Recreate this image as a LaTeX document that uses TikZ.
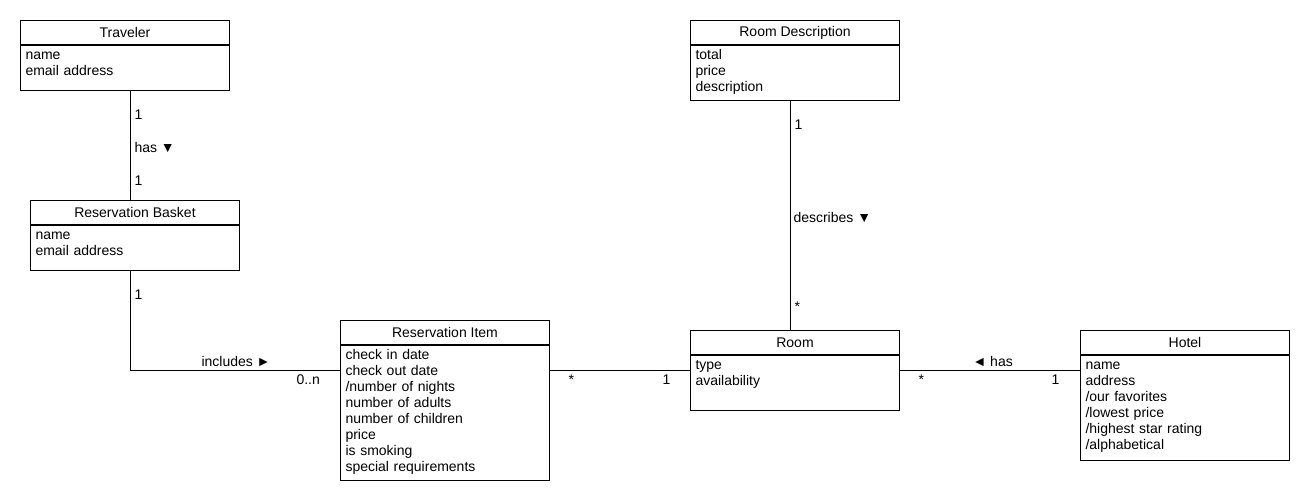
\documentclass[tikz,border=0pt]{standalone}
\usepackage{fontspec}
\setmainfont{Liberation Sans}
\begin{document}
\begin{tikzpicture}[
		x=0.75pt, y=-0.75pt,
		line width=0.75pt,
		every node/.style={font=\fontsize{10.5}{12}\selectfont},
		head/.style={draw, anchor=north west, minimum width=156.75pt, minimum height=18pt, inner sep=0pt},
		body/.style={draw, anchor=north, minimum width=156.75pt, inner sep=0pt},
		attrs/.style={anchor=base west, text width=150pt, align=left, inner sep=0pt},
		lab/.style={anchor=base west, inner sep=0pt}
	]
	\useasboundingbox (0,0) rectangle (1310,500);
	
	% classes
	\node[head] (trav) at (20,20) {Traveler};
	\node[body, minimum height=33.75pt] (travb) at (trav.south) {};
	\node[attrs] (travt) at ([shift={(5,14)}]travb.north west) {name\\email address};
	
	\node[head] (desc) at (690,20) {Room Description};
	\node[body, minimum height=41.25pt] (descb) at (desc.south) {};
	\node[attrs] (desct) at ([shift={(5,14)}]descb.north west) {total\\price\\description};
	
	\node[head] (bask) at (30,200) {Reservation Basket};
	\node[body, minimum height=33.75pt] (baskb) at (bask.south) {};
	\node[attrs] (baskt) at ([shift={(5,14)}]baskb.north west) {name\\email address};
	
	\node[head] (item) at (340,320) {Reservation Item};
	\node[body, minimum height=101.25pt] (itemb) at (item.south) {};
	\node[attrs] (itemt) at ([shift={(5,14)}]itemb.north west) {check in date\\check out date\\/number of nights\\number of adults\\number of children\\price\\is smoking\\special requirements};
	
	\node[head] (room) at (690,330) {Room};
	\node[body, minimum height=41.25pt] (roomb) at (room.south) {};
	\node[attrs] (roomt) at ([shift={(5,14)}]roomb.north west) {type\\availability};
	
	\node[head] (hotel) at (1080,330) {Hotel};
	\node[body, minimum height=78.75pt] (hotelb) at (hotel.south) {};
	\node[attrs] (hotelt) at ([shift={(5,14)}]hotelb.north west) {name\\address\\/our favorites\\/lowest price\\/highest star rating\\/alphabetical};
	
	% associations
	\coordinate (hasx) at (130,0);
	\coordinate (descx) at (790,0);
	\coordinate (midline) at (0,370);
	\draw (travb.south -| hasx) -- (bask.north -| hasx);
	\draw (baskb.south -| hasx) |- (itemb.west |- midline);
	\draw (itemb.east |- midline) -- (roomb.west |- midline);
	\draw (descb.south -| descx) -- (room.north -| descx);
	\draw (roomb.east |- midline) -- (hotelb.west |- midline);
	
	\node[lab] (m1) at (134,119) {1};
	\node[lab] (a1) at (134,152) {has ▼};
	\node[lab] (m2) at (134,185) {1};
	\node[lab] (m3) at (134,299) {1};
	\node[lab] (a2) at (201,366) {includes ►};
	\node[lab] (m4) at (296,384) {0..n};
	\node[lab] (m5) at (568,384) {*};
	\node[lab] (m6) at (662,384) {1};
	\node[lab] (m7) at (794,129) {1};
	\node[lab] (a3) at (793,222) {describes ▼};
	\node[lab] (m8) at (794,311) {*};
	\node[lab] (m9) at (918,384) {*};
	\node[lab] (a4) at (972,366) {◄ has};
	\node[lab] (m10) at (1051,384) {1};
\end{tikzpicture}
\end{document}
